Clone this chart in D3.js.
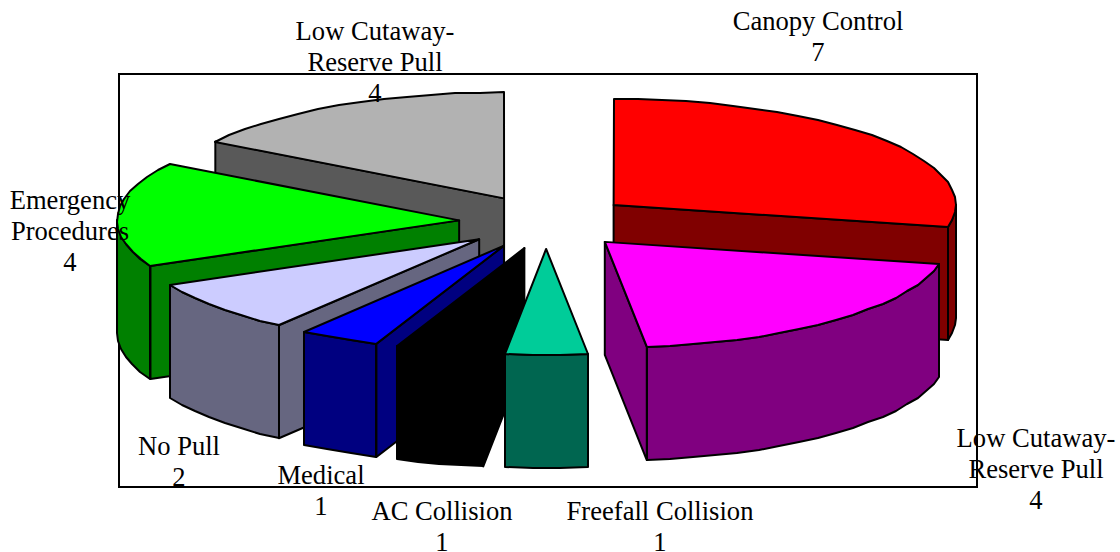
<!DOCTYPE html>
<html>
<head>
<meta charset="utf-8">
<script src="https://cdn.jsdelivr.net/npm/d3@7"></script>
<style>
  html, body { margin: 0; background: #fff; }
  text { font-family: "Liberation Serif", serif; font-size: 26.6px; fill: #000; }
</style>
</head>
<body>
<div id="chart"></div>
<script>
var svgWidth = 1120;
var svgHeight = 552;

// clockwise from 12 o'clock
var categories = ["Canopy Control", "Low Cutaway-Reserve Pull", "Freefall Collision", "AC Collision",
    "Medical", "No Pull", "Emergency Procedures", "Low Cutaway-Reserve Pull"];
var counts = [7, 4, 1, 1, 1, 2, 4, 4];
// slice sizes as they were drawn, they differ a bit from the printed counts
var drawnShares = [6.8, 4.73, 0.93, 1.0, 0.93, 1.91, 3.86, 3.84];

var topColors = ["#ff0000", "#ff00ff", "#00cc99", "#000000", "#0000ff", "#ccccff", "#00ff00", "#b2b2b2"];
var sideColors = ["#800000", "#800080", "#006650", "#000000", "#000080", "#666680", "#008000", "#595959"];

// label text lines and where the first line sits
var labelLines = [["Canopy Control"], ["Low Cutaway-", "Reserve Pull"], ["Freefall Collision"], ["AC Collision"],
    ["Medical"], ["No Pull"], ["Emergency", "Procedures"], ["Low Cutaway-", "Reserve Pull"]];
var labelX = [818, 1036, 660, 442, 321, 179, 70, 375];
var labelY = [30, 447, 520, 520, 484, 455, 209, 40];

var lineGap = 31;
var depth = 113;
var explode = 87;
var tilt = 0.31;
var radius = 342;

var svg = d3.select("#chart")
    .append("svg")
    .attr("width", svgWidth)
    .attr("height", svgHeight)
    .style("display", "block");

// plot frame
svg.append("rect")
    .attr("x", 119)
    .attr("y", 74)
    .attr("width", 858)
    .attr("height", 413)
    .attr("fill", "#fff")
    .attr("stroke", "#000")
    .attr("stroke-width", 2);

// flat pie -> screen
var xScale = d3.scaleLinear().domain([-1, 1]).range([546 - radius, 546 + radius]);
var yScale = d3.scaleLinear().domain([-1, 1]).range([222 - radius * tilt, 222 + radius * tilt]);

var slices = d3.pie().sort(null)(drawnShares);

slices.forEach(function(d, i) {
    d.mid = (d.startAngle + d.endAngle) / 2;
    d.ox = Math.sin(d.mid) * explode / radius;
    d.oy = -Math.cos(d.mid) * explode / radius;
    d.top = topColors[i];
    d.side = sideColors[i];
});

function project(d, angle, r, drop) {
    return [
        xScale(Math.sin(angle) * r + d.ox),
        yScale(-Math.cos(angle) * r + d.oy) + drop
    ];
}

// rim is coarse and snapped to whole pixels, that gives the wobbly edge of the original
function rim(d, a0, a1, drop) {
    var step = Math.PI / 45;
    var n = Math.max(1, Math.round((a1 - a0) / step));
    return d3.range(n + 1).map(function(k) {
        var p = project(d, a0 + (a1 - a0) * k / n, 1, drop);
        return [Math.round(p[0]), Math.round(p[1])];
    });
}

var line = d3.line().curve(d3.curveLinearClosed);

function addFace(g, points, fill) {
    g.append("path")
        .attr("d", line(points))
        .attr("fill", fill)
        .attr("stroke", "#000")
        .attr("stroke-width", 2)
        .attr("stroke-linejoin", "round");
}

function radialWall(g, d, angle) {
    addFace(g, [
        project(d, 0, 0, 0),
        project(d, angle, 1, 0),
        project(d, angle, 1, depth),
        project(d, 0, 0, depth)
    ], d.side);
}

// back slices first
var order = slices.slice().sort(function(a, b) {
    return yScale(a.oy) - yScale(b.oy);
});

order.forEach(function(d) {
    var g = svg.append("g");

    if (Math.sin(d.startAngle) < -1e-6) radialWall(g, d, d.startAngle);
    if (Math.sin(d.endAngle) > 1e-6) radialWall(g, d, d.endAngle);

    var a0 = Math.max(d.startAngle, Math.PI / 2);
    var a1 = Math.min(d.endAngle, Math.PI * 1.5);
    if (a1 > a0) {
        addFace(g, rim(d, a0, a1, 0).concat(rim(d, a0, a1, depth).reverse()), d.side);
    }

    addFace(g, [project(d, 0, 0, 0)].concat(rim(d, d.startAngle, d.endAngle, 0)), d.top);
});

// labels
categories.forEach(function(name, i) {
    var lines = labelLines[i].concat([String(counts[i])]);
    svg.append("text")
        .attr("text-anchor", "middle")
        .selectAll("tspan")
        .data(lines)
        .enter()
        .append("tspan")
        .attr("x", labelX[i])
        .attr("y", function(t, k) { return labelY[i] + k * lineGap; })
        .text(function(t) { return t; });
});
</script>
</body>
</html>
